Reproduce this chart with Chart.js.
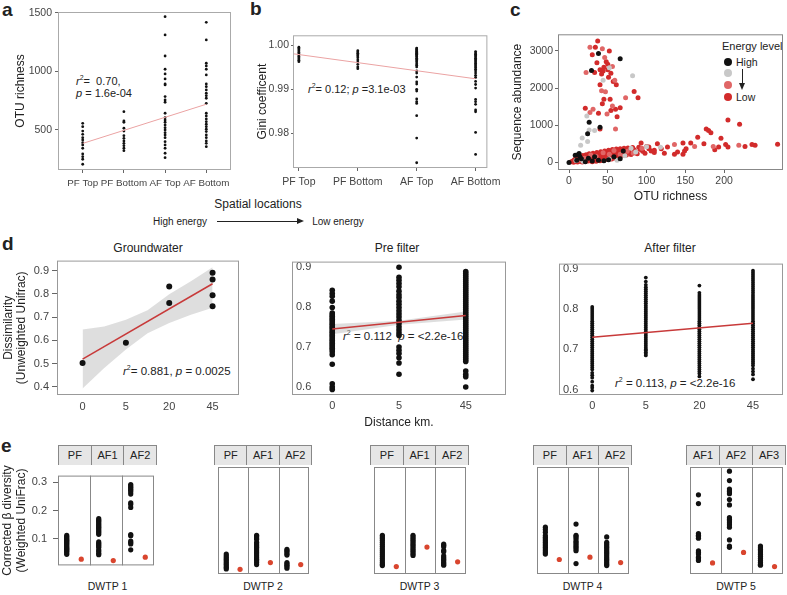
<!DOCTYPE html>
<html lang="en">
<head>
<meta charset="UTF-8">
<title>Energy level, richness and beta diversity</title>
<script src="https://cdn.jsdelivr.net/npm/chart.js@4.4.0/dist/chart.umd.min.js"></script>
<style>
  body { margin: 0; width: 787px; height: 595px; position: relative; overflow: hidden; background: #fff;
         font-family: "Liberation Sans", Arial, sans-serif; color: #222; }
  canvas { position: absolute; }
  .t { position: absolute; white-space: nowrap; line-height: 1; }
  .c { transform: translate(-50%, -50%); }
  .m { transform: translateY(-50%); }
  .tag { font-weight: bold; font-size: 19px; }
  .ann { font-size: 11px; }
  .ann sup { font-size: 7px; vertical-align: 5px; line-height: 0; }
  .strip { position: absolute; top: 445px; height: 20px; display: flex; box-sizing: border-box;
           border: 1px solid #888; border-bottom: none; background: #e6e6e6; }
  .strip div { flex: 1; text-align: center; font-size: 11px; line-height: 19px; border-left: 1px solid #888; }
  .strip div:first-child { border-left: none; }
  .dot { position: absolute; width: 8px; height: 8px; border-radius: 50%; transform: translate(-50%, -50%); }
</style>
</head>
<body>
  <!-- panel tags -->
  <div class="t tag" style="left:2px;top:0px">a</div>
  <div class="t tag" style="left:250px;top:-1px">b</div>
  <div class="t tag" style="left:510px;top:0px">c</div>
  <div class="t tag" style="left:2px;top:234px">d</div>
  <div class="t tag" style="left:1px;top:436px">e</div>

  <!-- shared x caption under a and b -->
  <div class="t c" style="left:258px;top:204px;font-size:12px">Spatial locations</div>
  <div class="t c" style="left:180px;top:222px;font-size:10px">High energy</div>
  <div style="position:absolute;left:217px;top:221px;width:81px;height:1px;background:#222"></div>
  <div style="position:absolute;left:297px;top:218px;width:0;height:0;border-top:3.5px solid transparent;border-bottom:3.5px solid transparent;border-left:7px solid #222"></div>
  <div class="t c" style="left:338px;top:222px;font-size:10px">Low energy</div>

  <!-- annotations -->
  <div class="t ann" style="left:76px;top:75px;line-height:12px"><i>r</i><sup>2</sup>= &nbsp;0.70,<br><i>p</i> = 1.6e-04</div>
  <div class="t ann m" style="left:308px;top:89px"><i>r</i><sup>2</sup>= 0.12; <i>p</i> =3.1e-03</div>
  <div class="t ann m" style="left:123px;top:372px;font-size:11.5px"><i>r</i><sup>2</sup>= 0.881, <i>p</i> = 0.0025</div>
  <div class="t ann m" style="left:343px;top:337px;font-size:11.5px"><i>r</i><sup>2</sup> = 0.112 &nbsp;<i>p</i> = &lt;2.2e-16</div>
  <div class="t ann m" style="left:615px;top:384px;font-size:11.5px"><i>r</i><sup>2</sup> = 0.113, <i>p</i> = &lt;2.2e-16</div>

  <!-- panel d facet titles -->
  <div class="t c" style="left:148px;top:248px;font-size:12px">Groundwater</div>
  <div class="t c" style="left:397px;top:248px;font-size:12px">Pre filter</div>
  <div class="t c" style="left:670px;top:248px;font-size:12px">After filter</div>

  <!-- panel c legend -->
  <div class="t m" style="left:722px;top:46px;font-size:11px">Energy level</div>
  <div class="dot" style="left:728px;top:62px;background:#111"></div>
  <div class="dot" style="left:728px;top:73px;background:#c8c8c8"></div>
  <div class="dot" style="left:728px;top:85px;background:#e06666"></div>
  <div class="dot" style="left:728px;top:97px;background:#d22b2b"></div>
  <div class="t m" style="left:736px;top:62px;font-size:10.5px">High</div>
  <div class="t m" style="left:736px;top:97px;font-size:10.5px">Low</div>
  <div style="position:absolute;left:742px;top:69px;width:1px;height:15px;background:#222"></div>
  <div style="position:absolute;left:739px;top:83px;width:0;height:0;border-left:3.5px solid transparent;border-right:3.5px solid transparent;border-top:7px solid #222"></div>

<script>
// ---- panel a: OTU richness by location ----
const aCats = ['PF Top', 'PF Bottom', 'AF Top', 'AF Bottom'];
const aPFTop = [557, 528, 491, 463, 434, 415, 391, 372, 344, 295, 272, 250, 207];
const aPFBottom = [656, 577, 566, 515, 491, 451, 429, 406, 386, 366, 344, 323];
const aAFTop = [1468, 1312, 1132, 1019, 979, 936, 893, 885, 785, 756, 737, 643, 605, 585, 566, 543, 520, 500, 477, 457, 434, 400, 372, 344, 301, 263];
const aAFBottom = [1420, 1269, 1070, 1047, 1019, 970, 893, 870, 842, 814, 793, 771, 728, 643, 620, 594, 571, 549, 528, 506, 486, 457, 434, 406, 386, 357];
const aFitX = [0, 3];
const aFitY = [385, 720];
const aTicks = [500, 1000, 1500];

// ---- panel b: Gini coefficient ----
const bPFTop = [0.9996, 0.9993, 0.999, 0.9987, 0.9984, 0.9981, 0.9978, 0.9975, 0.9972, 0.9969, 0.9966, 0.9963];
const bPFBottom = [0.9988, 0.9985, 0.9982, 0.9979, 0.9976, 0.9972, 0.9967, 0.9962, 0.9957, 0.9951, 0.9947];
const bAFTop = [0.9994, 0.9992, 0.999, 0.9988, 0.9986, 0.9984, 0.9982, 0.998, 0.9978, 0.9976, 0.9974, 0.9971, 0.9968, 0.9965, 0.9962, 0.9958, 0.9955, 0.9951, 0.9942, 0.9937, 0.9928, 0.9917, 0.9912, 0.99, 0.9896, 0.9878, 0.9872, 0.9868, 0.984, 0.9789, 0.9733];
const bAFBottom = [0.9986, 0.9983, 0.998, 0.9977, 0.9974, 0.9971, 0.9968, 0.9965, 0.9962, 0.9959, 0.9956, 0.9953, 0.995, 0.9946, 0.9942, 0.9937, 0.9932, 0.9927, 0.9918, 0.9911, 0.9903, 0.9877, 0.9872, 0.9866, 0.9853, 0.9849, 0.9802, 0.9752];
const bFitX = [-0.1, 3];
const bFitY = [0.9981, 0.9924];
const bTicks = [0.98, 0.99, 1.00];

// ---- panel c: sequence abundance vs OTU richness, [richness, abundance] ----
const cHigh = [[0,0],[38,2930],[66,2790],[29,2470],[26,1080],[40,945],[24,770],[8,190],[12,210],[13,240],[14,150],[16,100],[10,60],[25,110],[30,35],[38,60],[45,45],[51,75],[66,100],[70,310],[21,20],[58,150],[33,150]];
const cMid = [[17,660],[15,460],[23,1250],[26,870],[33,860],[44,2210],[52,2550],[82,2330],[62,60],[100,420],[118,410],[80,380],[86,280],[52,90],[18,30],[9,50],[24,560],[72,180]];
const cLowish = [[27,3100],[43,3060],[46,2820],[56,2580],[22,2420],[59,2210],[42,1930],[73,1740],[31,1430],[56,1520],[27,1340],[49,1300],[60,900],[47,1900],
  [12,60],[20,110],[28,200],[35,160],[44,260],[52,220],[58,320],[66,220],[75,300],[83,250],[94,380],[136,485],[162,430],[186,430],[219,460]];
const cLow = [[37,3270],[34,3100],[52,3000],[48,2710],[50,2640],[45,2560],[40,2490],[50,2490],[54,2400],[33,2420],[44,2460],[61,2090],[84,1910],[89,1740],
  [21,1460],[43,1580],[60,1430],[66,1470],[38,1320],[54,1400],[62,1230],[40,900],[53,1700],[40,2090],[36,2680],[30,2900],[42,2380],[51,2290],[57,2180],[45,1700],
  [3,15],[5,40],[6,5],[7,70],[8,25],[9,110],[10,45],[11,8],[12,130],[13,75],[14,30],[15,160],[16,95],[17,50],[17,10],[18,185],[19,120],[20,70],[21,25],
  [22,205],[23,150],[24,90],[25,40],[26,230],[27,170],[28,110],[29,60],[30,15],[31,250],[32,190],[33,130],[34,80],[35,30],[36,270],[37,210],[38,150],
  [39,95],[40,45],[41,290],[42,230],[43,170],[44,115],[45,60],[46,310],[47,250],[48,190],[49,130],[50,80],[51,330],[52,265],[53,205],[54,150],[55,95],
  [56,345],[57,285],[58,225],[59,170],[60,110],[61,360],[62,300],[63,240],[64,180],[65,130],[66,370],[67,310],[68,250],[69,190],[71,380],[72,320],
  [73,260],[74,200],[76,390],[77,330],[78,270],[80,215],[82,400],[84,340],[86,280],[88,230],[90,410],[92,350],[95,300],[98,250],[100,430],[103,370],
  [106,310],[110,270],
  [103,415],[110,330],[114,500],[119,370],[127,415],[136,220],[140,280],[147,520],[147,220],[149,310],[151,370],[157,520],[166,680],[174,500],
  [177,900],[180,860],[183,800],[188,340],[193,415],[196,650],[202,480],[205,1140],[205,415],[220,1030],[227,430],[236,480],[240,460],[269,490],[93,520],[123,250]];
const cXTicks = [0, 50, 100, 150, 200];
const cYTicks = [0, 1000, 2000, 3000];

// ---- panel d: dissimilarity vs distance ----
const dDistLabels = ['0', '5', '20', '45'];
const gwX = [0, 1, 2, 2, 3, 3, 3, 3];
const gwY = [0.502, 0.589, 0.832, 0.761, 0.892, 0.862, 0.795, 0.747];
const gwFitY = [0.519, 0.844];
const gwBandX = [0, 0.5, 1, 1.5, 2, 2.5, 3];
const gwBandHi = [0.647, 0.660, 0.689, 0.730, 0.799, 0.855, 0.915];
const gwBandLo = [0.392, 0.480, 0.560, 0.630, 0.675, 0.710, 0.740];
const dTicks = [0.4, 0.5, 0.6, 0.7, 0.8, 0.9];

const preLabels = ['0', '5', '45'];
const pre0 = [0.842, 0.834, 0.827, 0.815, 0.799, 0.785, 0.781, 0.777, 0.773, 0.769, 0.765, 0.761, 0.757, 0.753, 0.749, 0.745, 0.741, 0.737, 0.733, 0.729, 0.725, 0.721, 0.717, 0.713, 0.709, 0.705, 0.701, 0.697, 0.693, 0.688, 0.681, 0.657, 0.608, 0.600, 0.594];
const pre5 = [0.900, 0.875, 0.867, 0.859, 0.851, 0.840, 0.831, 0.824, 0.815, 0.807, 0.799, 0.791, 0.783, 0.775, 0.767, 0.759, 0.751, 0.743, 0.735, 0.729, 0.700, 0.692, 0.684, 0.673, 0.660, 0.632];
const pre45 = [0.889, 0.884, 0.879, 0.874, 0.869, 0.864, 0.859, 0.854, 0.849, 0.844, 0.839, 0.834, 0.829, 0.824, 0.819, 0.814, 0.809, 0.804, 0.799, 0.794, 0.789, 0.784, 0.779, 0.774, 0.769, 0.764, 0.759, 0.754, 0.749, 0.744, 0.739, 0.734, 0.729, 0.724, 0.719, 0.714, 0.709, 0.704, 0.699, 0.694, 0.689, 0.684, 0.679, 0.674, 0.669, 0.664, 0.640, 0.632, 0.626, 0.600];
const preFitY = [0.745, 0.779];
const preBandX = [0, 1, 2];
const preBandHi = [0.758, 0.766, 0.789];
const preBandLo = [0.732, 0.756, 0.769];

const aft0 = [0.805, 0.800, 0.795, 0.790, 0.785, 0.780, 0.775, 0.770, 0.765, 0.760, 0.755, 0.750, 0.745, 0.740, 0.735, 0.730, 0.725, 0.720, 0.715, 0.710, 0.705, 0.700, 0.695, 0.690, 0.685, 0.680, 0.675, 0.670, 0.665, 0.660, 0.655, 0.650, 0.642, 0.636, 0.630, 0.620, 0.610, 0.605, 0.598];
const aft5 = [0.878, 0.868, 0.860, 0.854, 0.849, 0.844, 0.839, 0.834, 0.829, 0.824, 0.819, 0.814, 0.809, 0.804, 0.799, 0.794, 0.789, 0.784, 0.779, 0.774, 0.769, 0.764, 0.759, 0.754, 0.749, 0.744, 0.739, 0.734, 0.729, 0.724, 0.719, 0.714, 0.709, 0.704, 0.700, 0.697, 0.693, 0.689, 0.685];
const aft20 = [0.858, 0.840, 0.835, 0.830, 0.825, 0.820, 0.815, 0.810, 0.805, 0.800, 0.795, 0.790, 0.785, 0.780, 0.775, 0.770, 0.765, 0.760, 0.755, 0.750, 0.745, 0.740, 0.735, 0.730, 0.725, 0.720, 0.715, 0.710, 0.705, 0.700, 0.695, 0.690, 0.685, 0.680, 0.675, 0.670, 0.665, 0.660, 0.655, 0.650, 0.645, 0.640, 0.633];
const aft45 = [0.895, 0.890, 0.885, 0.880, 0.875, 0.870, 0.865, 0.860, 0.855, 0.850, 0.845, 0.840, 0.835, 0.830, 0.825, 0.820, 0.815, 0.810, 0.805, 0.800, 0.795, 0.790, 0.785, 0.780, 0.775, 0.770, 0.765, 0.760, 0.755, 0.750, 0.745, 0.740, 0.735, 0.730, 0.725, 0.720, 0.715, 0.710, 0.705, 0.700, 0.695, 0.690, 0.685, 0.680, 0.675, 0.670, 0.665, 0.660, 0.652, 0.645, 0.638, 0.626];
const aftFitY = [0.730, 0.765];
const dTicks2 = [0.6, 0.7, 0.8, 0.9];

// ---- panel e: corrected beta diversity, observed (black) and null (red) ----
const ePlants = ['DWTP 1', 'DWTP 2', 'DWTP 3', 'DWTP 4', 'DWTP 5'];
const eFacets = [['PF', 'AF1', 'AF2'], ['PF', 'AF1', 'AF2'], ['PF', 'AF1', 'AF2'], ['PF', 'AF1', 'AF2'], ['AF1', 'AF2', 'AF3']];
const dwtp1 = [
  [0.112, 0.107, 0.103, 0.099, 0.095, 0.091, 0.087, 0.083, 0.079, 0.075, 0.071, 0.067, 0.063, 0.059, 0.055, 0.05, 0.045],
  [0.171, 0.166, 0.161, 0.156, 0.151, 0.146, 0.141, 0.136, 0.131, 0.126, 0.121, 0.116, 0.089, 0.084, 0.079, 0.075, 0.07, 0.061, 0.056, 0.049, 0.044],
  [0.292, 0.287, 0.282, 0.277, 0.272, 0.265, 0.258, 0.227, 0.222, 0.211, 0.115, 0.111, 0.092, 0.087, 0.082, 0.061]];
const dwtp2 = [
  [0.065, 0.06, 0.055, 0.05, 0.045, 0.04, 0.035, 0.03, 0.025, 0.021],
  [0.121, 0.117, 0.113, 0.109, 0.1, 0.095, 0.09, 0.085, 0.08, 0.075, 0.07, 0.065, 0.06, 0.055, 0.05, 0.045, 0.04, 0.034],
  [0.079, 0.075, 0.071, 0.066, 0.062, 0.04, 0.036, 0.032, 0.028, 0.023]];
const dwtp3 = [
  [0.121, 0.116, 0.111, 0.106, 0.1, 0.094, 0.088, 0.082, 0.076, 0.07, 0.064, 0.058, 0.052, 0.046, 0.04, 0.035, 0.031],
  [0.121, 0.116, 0.111, 0.106, 0.101, 0.096, 0.091, 0.086, 0.081, 0.076, 0.071, 0.066, 0.061],
  [0.095, 0.091, 0.087, 0.076, 0.072, 0.06, 0.055, 0.05, 0.045, 0.04, 0.036, 0.032]];
const dwtp4 = [
  [0.145, 0.138, 0.13, 0.12, 0.115, 0.11, 0.105, 0.1, 0.095, 0.09, 0.085, 0.08, 0.075, 0.07, 0.065],
  [0.154, 0.121, 0.117, 0.112, 0.105, 0.1, 0.095, 0.09, 0.085, 0.08, 0.075, 0.037],
  [0.116, 0.1, 0.095, 0.09, 0.085, 0.08, 0.075, 0.07, 0.065, 0.06, 0.055, 0.05, 0.045, 0.04, 0.035, 0.031]];
const dwtp5 = [
  [0.241, 0.215, 0.126, 0.121, 0.117, 0.112, 0.075, 0.07, 0.065, 0.056, 0.051, 0.046],
  [0.311, 0.283, 0.258, 0.253, 0.249, 0.244, 0.227, 0.211, 0.173, 0.168, 0.163, 0.158, 0.152, 0.145, 0.107, 0.089, 0.085],
  [0.089, 0.084, 0.079, 0.074, 0.069, 0.064, 0.058, 0.052, 0.046, 0.04, 0.035, 0.032]];
const eObserved = [dwtp1, dwtp2, dwtp3, dwtp4, dwtp5];
const eNull = [[0.028, 0.023, 0.035], [0.020, 0.040, 0.034], [0.028, 0.086, 0.042], [0.049, 0.056, 0.040], [0.039, 0.070, 0.028]];
const eTicks = [0.1, 0.2, 0.3];

// ---------------------------------------------------------------
Chart.defaults.font.family = '"Liberation Sans", Arial, sans-serif';
Chart.defaults.color = '#444';

// panel frame (ggplot style border) plus optional facet dividers
Chart.register({
  id: 'frame',
  afterDatasetsDraw(chart, args, opts) {
    const {ctx, chartArea: a} = chart;
    ctx.save();
    ctx.strokeStyle = opts.color;
    ctx.lineWidth = 1;
    ctx.strokeRect(a.left + 0.5, a.top + 0.5, a.width - 1, a.height - 1);
    (opts.dividers || []).forEach(v => {
      const x = Math.round(chart.scales.x.getPixelForValue(v)) + 0.5;
      ctx.beginPath(); ctx.moveTo(x, a.top); ctx.lineTo(x, a.bottom); ctx.stroke();
    });
    ctx.restore();
  }
});

function axis(min, max, vals, fmt, o = {}) {
  return {
    type: 'linear', min, max, display: o.display !== false,
    afterBuildTicks: s => { s.ticks = vals.map(v => ({value: v})); },
    ticks: {autoSkip: false, maxRotation: 0, minRotation: 0, padding: o.pad ?? 3, mirror: !!o.mirror,
            color: '#444', font: {size: o.size || 10.5}, callback: v => fmt(v)},
    grid: {drawOnChartArea: false, drawTicks: !!o.tick, tickLength: o.tick || 0, color: '#666'},
    border: {display: false},
    title: {display: !!o.title, text: o.title || '', color: '#222', padding: 0,
            font: {size: 12, lineHeight: o.lh || 1.2}}
  };
}

const xy = (xs, ys) => ys.map((y, i) => ({x: Array.isArray(xs) ? xs[i] : xs, y}));
const pairs = arr => arr.map(p => ({x: p[0], y: p[1]}));
const dots = (data, color, r, order = 2) => ({type: 'scatter', data, backgroundColor: color, borderWidth: 0, pointRadius: r, order});
const fit = (xs, ys, color, w) => ({type: 'line', data: xy(xs, ys), borderColor: color, borderWidth: w, pointRadius: 0, fill: false, order: 1});
const band = (xs, hi, lo) => [
  {type: 'line', data: xy(xs, hi), borderColor: 'transparent', pointRadius: 0, fill: false, order: 3},
  {type: 'line', data: xy(xs, lo), borderColor: 'transparent', pointRadius: 0, fill: '-1', backgroundColor: 'rgba(190,190,190,0.5)', order: 3}
];

function makeChart(box, m, cfg) {
  const [x0, y0, x1, y1] = box;
  const w = x1 - x0 + m.l + m.r, h = y1 - y0 + m.t + m.b;
  const cv = document.createElement('canvas');
  cv.width = w; cv.height = h;
  Object.assign(cv.style, {left: (x0 - m.l) + 'px', top: (y0 - m.t) + 'px', width: w + 'px', height: h + 'px'});
  document.body.appendChild(cv);
  cfg.x.afterFit = s => { s.height = m.b; };
  cfg.y.afterFit = s => { s.width = m.l; };
  return new Chart(cv, {
    type: 'scatter',
    data: {datasets: cfg.datasets},
    options: {
      responsive: false, animation: false, devicePixelRatio: 1,
      layout: {padding: {left: 0, top: m.t, right: m.r, bottom: 0}},
      scales: {x: cfg.x, y: cfg.y},
      plugins: {legend: {display: false}, tooltip: {enabled: false},
                frame: {color: cfg.frame || '#999', dividers: cfg.dividers || []}}
    }
  });
}

// a
makeChart([58, 12, 231, 170], {l: 45, t: 12, r: 12, b: 25}, {
  datasets: [aPFTop, aPFBottom, aAFTop, aAFBottom].map((g, i) => dots(xy(i, g), '#111', 1.4))
    .concat([fit(aFitX, aFitY, '#eba3a3', 1)]),
  x: axis(-0.6, 3.6, [0, 1, 2, 3], v => aCats[v], {tick: 3, pad: 4, size: 9.8}),
  y: axis(158, 1508, aTicks, v => String(v), {tick: 3, pad: 3, title: 'OTU richness'}),
  frame: '#aaa'
});

// b
makeChart([293, 33, 496, 168], {l: 38, t: 6, r: 10, b: 22}, {
  datasets: [bPFTop, bPFBottom, bAFTop, bAFBottom].map((g, i) => dots(xy(i, g), '#111', 1.4))
    .concat([fit(bFitX, bFitY, '#eba3a3', 1)]),
  x: axis(-0.1, 3.2, [0, 1, 2, 3], v => aCats[v], {tick: 3, pad: 5}),
  y: axis(0.9721, 1.0023, bTicks, v => v.toFixed(2), {tick: 2, pad: 2, title: 'Gini coefficent'}),
  frame: '#aaa'
});

// c
makeChart([558, 32, 783, 170], {l: 48, t: 6, r: 4, b: 34}, {
  datasets: [
    dots(pairs(cLow), '#d22b2b', 2.5, 5),
    dots(pairs(cLowish), '#e06666', 2.5, 4),
    dots(pairs(cMid), '#c8c8c8', 2.5, 3),
    dots(pairs(cHigh), '#111', 2.5, 2)
  ],
  x: axis(-14.2, 276, cXTicks, v => String(v), {tick: 3, pad: 2, title: 'OTU richness'}),
  y: axis(-204, 3447, cYTicks, v => String(v), {tick: 3, pad: 2, title: 'Sequence abundance'}),
  frame: '#888'
});

// d - groundwater
makeChart([57, 255, 239, 395], {l: 55, t: 4, r: 6, b: 20}, {
  datasets: band(gwBandX, gwBandHi, gwBandLo)
    .concat([dots(xy(gwX, gwY), '#111', 3), fit([0, 3], gwFitY, '#c83a3a', 1.5)]),
  x: axis(-0.59, 3.61, [0, 1, 2, 3], v => dDistLabels[v], {pad: 5, size: 11}),
  y: axis(0.364, 0.944, dTicks, v => v.toFixed(1), {tick: 5, pad: 3, size: 11,
     title: ['Dissimilarity', '(Unweighted Unifrac)'], lh: 1.1}),
  frame: '#999'
});

// d - pre filter
makeChart([288, 255, 506, 395], {l: 0, t: 4, r: 6, b: 35}, {
  datasets: band(preBandX, preBandHi, preBandLo)
    .concat([pre0, pre5, pre45].map((g, i) => dots(xy(i, g), '#111', 2.8)))
    .concat([fit([0, 2], preFitY, '#c83a3a', 1.5)]),
  x: axis(-0.603, 2.603, [0, 1, 2], v => preLabels[v], {pad: 4, size: 11, title: 'Distance km.'}),
  y: axis(0.580, 0.914, dTicks2, v => v.toFixed(1), {mirror: true, pad: 4, size: 11}),
  frame: '#999'
});

// d - after filter
makeChart([555, 257, 785, 395], {l: 0, t: 4, r: 2, b: 20}, {
  datasets: [aft0, aft5, aft20, aft45].map((g, i) => dots(xy(i, g), '#111', 1.9))
    .concat([fit([0, 3], aftFitY, '#c83a3a', 1.5)]),
  x: axis(-0.62, 3.56, [0, 1, 2, 3], v => dDistLabels[v], {pad: 4, size: 11}),
  y: axis(0.587, 0.9125, dTicks2, v => v.toFixed(1), {mirror: true, pad: 4, size: 11}),
  frame: '#999'
});

// e - five plants, three facets each (facet k spans x in [2.2k-0.6, 2.2k+1.6])
const eBoxes = [[58, 157], [214, 312], [370, 469], [533, 632], [686, 786]];
eBoxes.forEach(([x0, x1], p) => {
  const first = p === 0;
  const ds = [];
  eObserved[p].forEach((vals, k) => {
    ds.push(dots(xy(2.2 * k, vals), '#111', 2.6));
    ds.push(dots(xy([2.2 * k + 1], [eNull[p][k]]), '#d9452e', 2.6));
  });
  makeChart([x0, 465, x1, 578], {l: first ? 57 : 0, t: 2, r: 1, b: 0}, {
    datasets: ds,
    x: axis(-0.6, 6.0, [], v => '', {display: false}),
    y: axis(0.006, 0.3234, first ? eTicks : [], v => v.toFixed(1), {display: first, tick: 5, pad: 6, size: 11,
       title: ['Corrected \u03b2 diversity', '(Weighted UniFrac)'], lh: 1.15}),
    frame: '#888',
    dividers: [1.6, 3.8]
  });
  const strip = document.createElement('div');
  strip.className = 'strip';
  strip.style.left = x0 + 'px';
  strip.style.width = (x1 - x0) + 'px';
  eFacets[p].forEach(name => {
    const cell = document.createElement('div');
    cell.textContent = name;
    strip.appendChild(cell);
  });
  document.body.appendChild(strip);
  const lab = document.createElement('div');
  lab.className = 't c';
  lab.style.cssText = `left:${(x0 + x1) / 2}px;top:586px;font-size:10.5px`;
  lab.textContent = ePlants[p];
  document.body.appendChild(lab);
});
</script>
</body>
</html>
